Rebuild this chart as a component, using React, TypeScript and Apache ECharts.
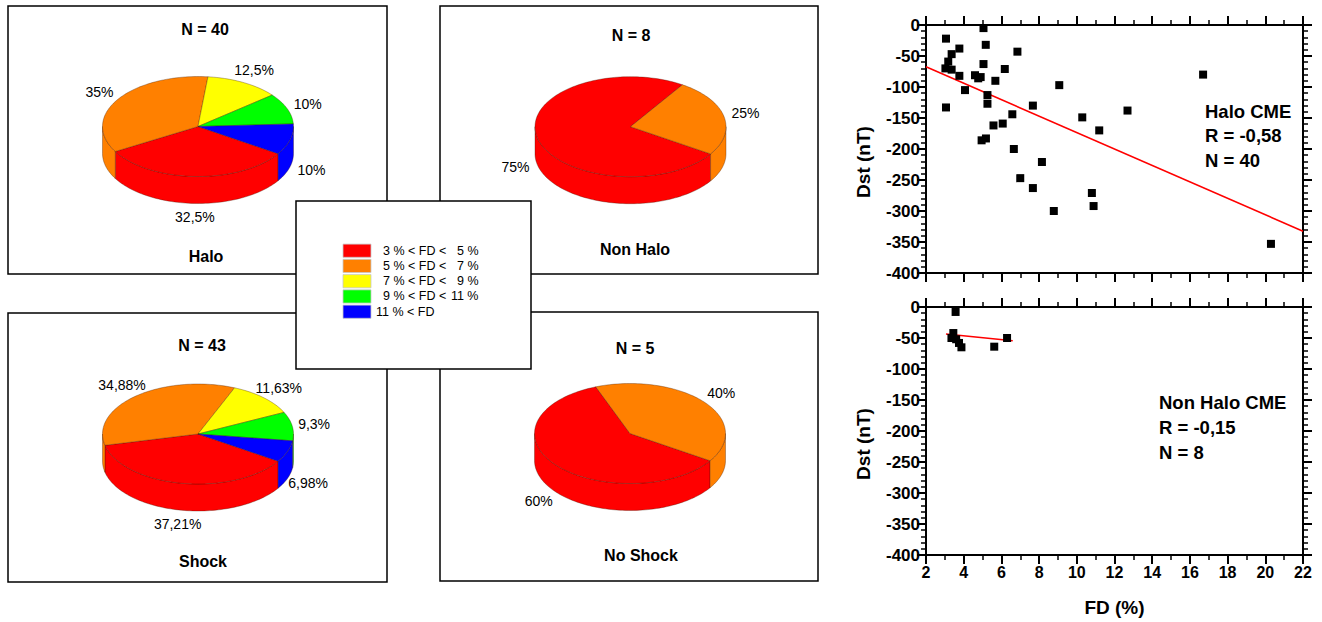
import React, { useEffect, useRef } from 'react';
import * as echarts from 'echarts';

const FONT = 'Liberation Sans, Arial, Helvetica, sans-serif';

// ---- pie data (percent shares, ordered: 3-5, 5-7, 7-9, 9-11, >11 % FD) ----
const sliceColors = ['#ff0000', '#ff8000', '#ffff00', '#00ff00', '#0000ff'];
const haloShares = [32.5, 35, 12.5, 10, 10];
const nonHaloShares = [75, 25];
const shockShares = [37.21, 34.88, 11.63, 9.3, 6.98];
const noShockShares = [60, 40];

const panelCounts = ['N = 40', 'N = 8', 'N = 43', 'N = 5'];
const panelNames = ['Halo', 'Non Halo', 'Shock', 'No Shock'];

const legendLeft = ['3 % < FD <', '5 % < FD <', '7 % < FD <', '9 % < FD <', '11 % < FD'];
const legendRight = ['5 %', '7 %', '9 %', '11 %', ''];

// ---- scatter data: [FD (%), Dst (nT)] ----
const haloPoints = [
  [3.06, -22], [5.05, -5], [5.17, -32], [6.85, -43], [3.77, -38], [3.36, -47],
  [3.18, -59], [3.03, -70], [3.36, -72], [5.05, -63], [6.18, -71], [3.77, -82],
  [4.6, -81], [4.77, -86], [4.9, -84], [5.68, -90], [4.07, -105], [5.26, -113],
  [5.26, -127], [3.06, -133], [9.07, -97], [16.7, -80], [7.67, -130], [12.69, -138],
  [6.58, -144], [10.29, -149], [11.19, -170], [5.58, -162], [6.07, -159], [4.95, -186],
  [5.18, -183], [6.66, -200], [8.15, -221], [7.0, -247], [7.67, -263], [8.78, -300],
  [10.8, -271], [10.89, -292], [20.3, -353],
];
const haloFit = [[2, -67.3], [22, -332.7]];
const nonHaloPoints = [
  [3.57, -8], [3.45, -42], [3.35, -50], [3.6, -52], [3.75, -58], [3.88, -65],
  [5.62, -64], [6.3, -50],
];
const nonHaloFit = [[3.06, -43.6], [6.6, -54.4]];

const haloStats = ['Halo CME', 'R = -0,58', 'N = 40'];
const nonHaloStats = ['Non Halo CME', 'R = -0,15', 'N = 8'];

const xRange = { min: 2, max: 22, interval: 2 };
const yRange = { min: -400, max: 0, interval: 50 };

// ---- layout ----
const PIE_RX = 95.5;
const PIE_RY = 50;
const PIE_H = 27;
const PIE_START = (33 * Math.PI) / 180;

function arcPts(cx: number, cy: number, a: number, b: number, dy: number) {
  const pts: number[][] = [];
  const n = Math.max(2, Math.ceil(Math.abs(b - a) / 0.03));
  for (let i = 0; i <= n; i++) {
    const t = a + ((b - a) * i) / n;
    pts.push([cx + PIE_RX * Math.cos(t), cy + PIE_RY * Math.sin(t) + dy]);
  }
  return pts;
}

function pieSeries(shares: number[], cx: number, cy: number) {
  const total = shares.reduce((s, v) => s + v, 0);
  return {
    type: 'custom',
    coordinateSystem: 'none',
    silent: true,
    data: shares.map((v, i) => [v, i]),
    renderItem: (params: any, api: any) => {
      const idx = params.dataIndex;
      let before = 0;
      for (let k = 0; k < idx; k++) before += shares[k];
      const v = api.value(0);
      const a0 = PIE_START + (before / total) * Math.PI * 2;
      const a1 = a0 + (v / total) * Math.PI * 2;
      const color = sliceColors[idx];
      const stroke = 'rgba(60,20,0,0.55)';
      const children: any[] = [];
      for (const k of [0, Math.PI * 2]) {
        const s = Math.max(a0, k);
        const e = Math.min(a1, k + Math.PI);
        if (e > s) {
          const top = arcPts(cx, cy, s, e, 0);
          const bot = arcPts(cx, cy, e, s, PIE_H);
          children.push({
            type: 'polygon',
            shape: { points: top.concat(bot) },
            style: { fill: color, stroke, lineWidth: 0.6 },
          });
        }
      }
      children.push({
        type: 'polygon',
        shape: { points: [[cx, cy]].concat(arcPts(cx, cy, a0, a1, 0)) },
        style: { fill: color, stroke, lineWidth: 0.6 },
      });
      const mid = (a0 + a1) / 2;
      const sm = Math.sin(mid);
      children.push({
        type: 'text',
        x: cx + (PIE_RX + 22) * Math.cos(mid),
        y: cy + (PIE_RY + 14) * sm + (sm > 0 ? PIE_H : 0),
        style: {
          text: String(v).replace('.', ',') + '%',
          fill: '#000',
          fontSize: 14,
          fontFamily: FONT,
          align: 'center',
          verticalAlign: 'middle',
        },
      });
      return { type: 'group', children };
    },
  };
}

function axisBase(range: any, minorSplit: number, showLabel: boolean, labelSize: number, margin: number) {
  return {
    type: 'value',
    min: range.min,
    max: range.max,
    interval: range.interval,
    axisLine: { show: true, onZero: false, lineStyle: { color: '#000', width: 2 } },
    axisTick: { show: true, inside: false, length: 9, lineStyle: { color: '#000', width: 2 } },
    minorTick: { show: true, splitNumber: minorSplit, length: 5, lineStyle: { color: '#000', width: 1.5 } },
    splitLine: { show: false },
    minorSplitLine: { show: false },
    axisLabel: {
      show: showLabel,
      color: '#000',
      fontSize: labelSize,
      fontWeight: 'bold',
      fontFamily: FONT,
      margin,
    },
  };
}

export default function App() {
  const ref = useRef<HTMLDivElement>(null);
  useEffect(() => {
    if (!ref.current) return;
    const chart = echarts.init(ref.current, undefined, { renderer: 'svg' });

    const graphics: any[] = [];
    const boxes = [
      [8, 6, 379, 268],
      [440, 6, 378, 268],
      [8, 313, 379, 269],
      [440, 312, 378, 269],
    ];
    boxes.forEach((b) => {
      graphics.push({
        type: 'rect',
        shape: { x: b[0], y: b[1], width: b[2], height: b[3] },
        style: { fill: 'none', stroke: '#000', lineWidth: 1.5 },
        silent: true,
      });
    });
    const titlePos = [
      [205, 29, 206, 256],
      [631, 35, 635, 249],
      [202, 345, 203, 561],
      [635, 348, 641, 555],
    ];
    titlePos.forEach((p, i) => {
      graphics.push({
        type: 'text',
        x: p[0],
        y: p[1],
        style: { text: panelCounts[i], fill: '#000', fontSize: 16, fontWeight: 'bold', fontFamily: FONT, align: 'center', verticalAlign: 'middle' },
      });
      graphics.push({
        type: 'text',
        x: p[2],
        y: p[3],
        style: { text: panelNames[i], fill: '#000', fontSize: 16, fontWeight: 'bold', fontFamily: FONT, align: 'center', verticalAlign: 'middle' },
      });
    });
    // legend box
    graphics.push({
      type: 'rect',
      z: 100,
      shape: { x: 296, y: 201, width: 235, height: 168 },
      style: { fill: '#fff', stroke: '#000', lineWidth: 1.5 },
    });
    legendLeft.forEach((t, i) => {
      const yc = 250.7 + i * 15.25;
      graphics.push({
        type: 'rect',
        z: 101,
        shape: { x: 343, y: yc - 6.6, width: 28, height: 13.2 },
        style: { fill: sliceColors[i], stroke: '#c8c8c8', lineWidth: 0.8 },
      });
      graphics.push({
        type: 'text',
        z: 101,
        x: i === 4 ? 376 : 383,
        y: yc,
        style: { text: t, fill: '#000', fontSize: 12.5, fontFamily: FONT, align: 'left', verticalAlign: 'middle' },
      });
      if (legendRight[i]) {
        graphics.push({
          type: 'text',
          z: 101,
          x: 478.5,
          y: yc,
          style: { text: legendRight[i], fill: '#000', fontSize: 12.5, fontFamily: FONT, align: 'right', verticalAlign: 'middle' },
        });
      }
    });
    haloStats.forEach((t, i) => {
      graphics.push({
        type: 'text',
        x: 1205,
        y: 111 + i * 24.5,
        style: { text: t, fill: '#000', fontSize: 18.5, fontWeight: 'bold', fontFamily: FONT, align: 'left', verticalAlign: 'middle' },
      });
    });
    nonHaloStats.forEach((t, i) => {
      graphics.push({
        type: 'text',
        x: 1159,
        y: 402.7 + i * 24.8,
        style: { text: t, fill: '#000', fontSize: 18.5, fontWeight: 'bold', fontFamily: FONT, align: 'left', verticalAlign: 'middle' },
      });
    });

    const xNameStyle = { color: '#000', fontSize: 19, fontWeight: 'bold', fontFamily: FONT };
    const yNameStyle = { color: '#000', fontSize: 19, fontWeight: 'bold', fontFamily: FONT, padding: [0, 26, 0, 0] };

    const option: any = {
      animation: false,
      backgroundColor: '#fff',
      textStyle: { fontFamily: FONT },
      grid: [
        { left: 926, top: 25, width: 377, height: 248 },
        { left: 926, top: 307, width: 377, height: 248 },
      ],
      xAxis: [
        { ...axisBase(xRange, 2, false, 16, 9), gridIndex: 0, position: 'bottom' },
        { ...axisBase(xRange, 2, false, 16, 9), gridIndex: 0, position: 'top' },
        {
          ...axisBase(xRange, 2, true, 16, 9),
          gridIndex: 1,
          position: 'bottom',
          name: 'FD (%)',
          nameLocation: 'middle',
          nameGap: 43,
          nameTextStyle: xNameStyle,
        },
        { ...axisBase(xRange, 2, false, 16, 9), gridIndex: 1, position: 'top' },
      ],
      yAxis: [
        {
          ...axisBase(yRange, 5, true, 17, 6),
          gridIndex: 0,
          position: 'left',
          name: 'Dst (nT)',
          nameLocation: 'middle',
          nameGap: 53,
          nameTextStyle: yNameStyle,
        },
        { ...axisBase(yRange, 5, false, 17, 6), gridIndex: 0, position: 'right' },
        {
          ...axisBase(yRange, 5, true, 17, 6),
          gridIndex: 1,
          position: 'left',
          name: 'Dst (nT)',
          nameLocation: 'middle',
          nameGap: 53,
          nameTextStyle: yNameStyle,
        },
        { ...axisBase(yRange, 5, false, 17, 6), gridIndex: 1, position: 'right' },
      ],
      graphic: graphics,
      series: [
        pieSeries(haloShares, 198, 126.5),
        pieSeries(nonHaloShares, 630.5, 126.7),
        pieSeries(shockShares, 198, 434),
        pieSeries(noShockShares, 630, 433.5),
        {
          type: 'line',
          xAxisIndex: 0,
          yAxisIndex: 0,
          data: haloFit,
          symbol: 'none',
          silent: true,
          lineStyle: { color: '#ff0000', width: 1.6 },
          z: 3,
        },
        {
          type: 'scatter',
          xAxisIndex: 0,
          yAxisIndex: 0,
          data: haloPoints,
          symbol: 'rect',
          symbolSize: 8,
          itemStyle: { color: '#000', opacity: 1 },
          z: 4,
        },
        {
          type: 'line',
          xAxisIndex: 2,
          yAxisIndex: 2,
          data: nonHaloFit,
          symbol: 'none',
          silent: true,
          lineStyle: { color: '#ff0000', width: 1.6 },
          z: 3,
        },
        {
          type: 'scatter',
          xAxisIndex: 2,
          yAxisIndex: 2,
          data: nonHaloPoints,
          symbol: 'rect',
          symbolSize: 8,
          itemStyle: { color: '#000', opacity: 1 },
          z: 4,
        },
      ],
    };
    chart.setOption(option);
    return () => chart.dispose();
  }, []);
  return (
    <div
      ref={ref}
      style={{ position: 'fixed', left: 0, top: 0, width: 1322, height: 622, background: '#fff' }}
    />
  );
}
